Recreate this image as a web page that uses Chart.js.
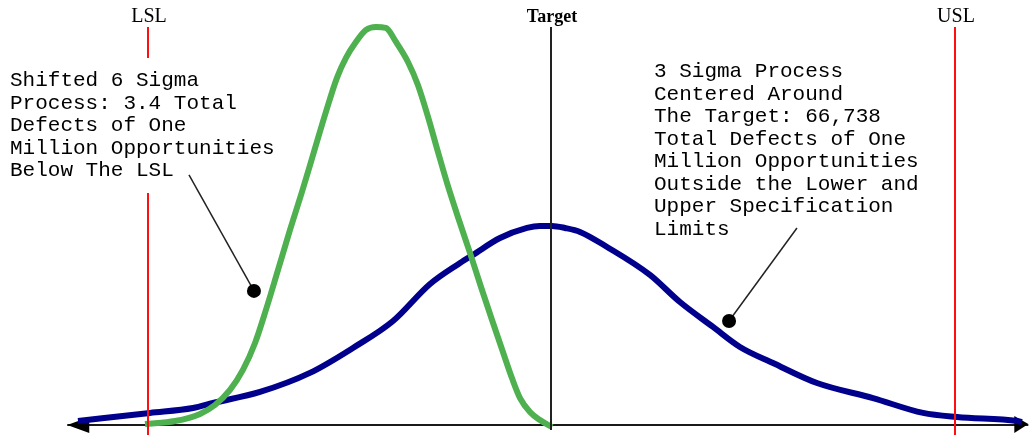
<!DOCTYPE html>
<html><head><meta charset="utf-8">
<script src="https://cdn.jsdelivr.net/npm/chart.js@4/dist/chart.umd.min.js"></script>
<style>html,body{margin:0;padding:0;background:#fff;}#wrap{width:1029px;height:435px;position:relative;}</style>
</head><body><div id="wrap"><canvas id="c"></canvas></div>
<script>
// x in sigma units (LSL=-3, Target=0, USL=3); y relative density (3-sigma peak = 1)
const specLabels = ['LSL', 'Target', 'USL'];
const specValues = [-3, 0, 3];

const threeSigmaX = [-3.52,-2.985,-2.665,-2.517,-2.167,-1.796,-1.476,-1.178,-0.903,-0.68,-0.584,-0.383,-0.182,-0.086,0.004,0.1,0.212,0.413,0.732,0.955,1.201,1.401,1.647,1.974,2.39,2.762,3.015,3.461,3.498];
const threeSigmaY = [0.020,0.061,0.086,0.111,0.167,0.263,0.389,0.525,0.712,0.818,0.859,0.944,0.995,1.005,1.005,0.995,0.975,0.899,0.758,0.621,0.495,0.394,0.313,0.212,0.136,0.061,0.040,0.020,0.015];

const sixSigmaX = [-3.022,-2.799,-2.613,-2.502,-2.39,-2.294,-2.204,-2.123,-2.033,-1.944,-1.855,-1.766,-1.677,-1.595,-1.528,-1.454,-1.379,-1.305,-1.231,-1.156,-1.067,-0.993,-0.918,-0.844,-0.77,-0.688,-0.606,-0.524,-0.442,-0.361,-0.294,-0.234,-0.16,-0.086,0.004];
const sixSigmaY = [0.005,0.020,0.056,0.101,0.177,0.278,0.414,0.581,0.783,0.985,1.177,1.379,1.581,1.753,1.854,1.934,1.995,2.010,2.005,1.934,1.833,1.717,1.556,1.379,1.207,1.035,0.869,0.697,0.530,0.369,0.237,0.136,0.066,0.025,-0.010];

const noteLeft = ['Shifted 6 Sigma','Process: 3.4 Total','Defects of One','Million Opportunities','Below The LSL'];
const noteRight = ['3 Sigma Process','Centered Around','The Target: 66,738','Total Defects of One','Million Opportunities','Outside the Lower and','Upper Specification','Limits'];
// leader lines: [fromX, fromY, dotX, dotY] in data units
const leaderLeft = [-2.695, 1.263, -2.212, 0.677];
const leaderRight = [1.825, 0.995, 1.320, 0.525];

const toPts = (xs, ys) => xs.map((x, i) => ({x, y: ys[i]}));

const decor = {
  id: 'decor',
  beforeDatasetsDraw(chart) {
    const {ctx, scales:{x, y}} = chart;
    ctx.save();
    const y0 = y.getPixelForValue(0);
    const xa = x.getPixelForValue(-3.6), xb = x.getPixelForValue(3.545);
    ctx.strokeStyle = '#1a1a1a'; ctx.lineWidth = 2;
    ctx.beginPath(); ctx.moveTo(xa, y0); ctx.lineTo(xb, y0); ctx.stroke();
    ctx.fillStyle = '#000';
    ctx.beginPath(); ctx.moveTo(xa, y0); ctx.lineTo(xa + 22, y0 - 8); ctx.lineTo(xa + 22, y0 + 8); ctx.closePath(); ctx.fill();
    ctx.beginPath(); ctx.moveTo(xb, y0 - 1); ctx.lineTo(xb - 14, y0 - 9); ctx.lineTo(xb - 14, y0 + 8); ctx.closePath(); ctx.fill();
    ctx.restore();
  },
  afterDatasetsDraw(chart) {
    const {ctx, scales:{x, y}} = chart;
    ctx.save();
    specValues.forEach((v, i) => {
      const px = Math.round(x.getPixelForValue(v));
      ctx.lineWidth = 2;
      if (specLabels[i] === 'Target') {
        ctx.strokeStyle = '#222';
        ctx.beginPath(); ctx.moveTo(px, 27); ctx.lineTo(px, 430); ctx.stroke();
      } else {
        ctx.strokeStyle = '#ff1010';
        ctx.beginPath();
        if (specLabels[i] === 'LSL') {
          ctx.moveTo(px, 27); ctx.lineTo(px, 58);
          ctx.moveTo(px, 193); ctx.lineTo(px, 435);
        } else {
          ctx.moveTo(px, 27); ctx.lineTo(px, 435);
        }
        ctx.stroke();
      }
      ctx.fillStyle = '#000';
      ctx.textAlign = 'center'; ctx.textBaseline = 'alphabetic';
      ctx.font = specLabels[i] === 'Target' ? 'bold 18px "Liberation Serif"' : '20px "Liberation Serif"';
      ctx.fillText(specLabels[i], px + 1, 22);
    });
    ctx.font = '21px "Liberation Mono"';
    ctx.textAlign = 'left'; ctx.fillStyle = '#000';
    noteLeft.forEach((t, i) => ctx.fillText(t, 10, 86 + i * 22.6));
    noteRight.forEach((t, i) => ctx.fillText(t, 654, 77 + i * 22.57));
    [leaderLeft, leaderRight].forEach(l => {
      const ax = x.getPixelForValue(l[0]), ay = y.getPixelForValue(l[1]);
      const bx = x.getPixelForValue(l[2]), by = y.getPixelForValue(l[3]);
      ctx.strokeStyle = '#222'; ctx.lineWidth = 1.5;
      ctx.beginPath(); ctx.moveTo(ax, ay); ctx.lineTo(bx, by); ctx.stroke();
      ctx.fillStyle = '#000';
      ctx.beginPath(); ctx.arc(bx, by, 7, 0, Math.PI * 2); ctx.fill();
    });
    ctx.restore();
  }
};

new Chart(document.getElementById('c'), {
  type: 'scatter',
  data: {
    datasets: [
      {label: 'Shifted 6 Sigma', data: toPts(sixSigmaX, sixSigmaY), showLine: true, borderColor: '#4fb04f', borderWidth: 6, pointRadius: 0, cubicInterpolationMode: 'monotone', order: 0},
      {label: '3 Sigma', data: toPts(threeSigmaX, threeSigmaY), showLine: true, borderColor: '#00008c', borderWidth: 6, pointRadius: 0, cubicInterpolationMode: 'monotone', order: 1}
    ]
  },
  options: {
    responsive: true, maintainAspectRatio: false, animation: false,
    layout: {padding: 0},
    plugins: {legend: {display: false}, tooltip: {enabled: false}},
    scales: {
      x: {type: 'linear', min: -4.1, max: 3.55, display: false},
      y: {type: 'linear', min: -0.0505, max: 2.146, display: false}
    }
  },
  plugins: [decor]
});
</script>
</body></html>
